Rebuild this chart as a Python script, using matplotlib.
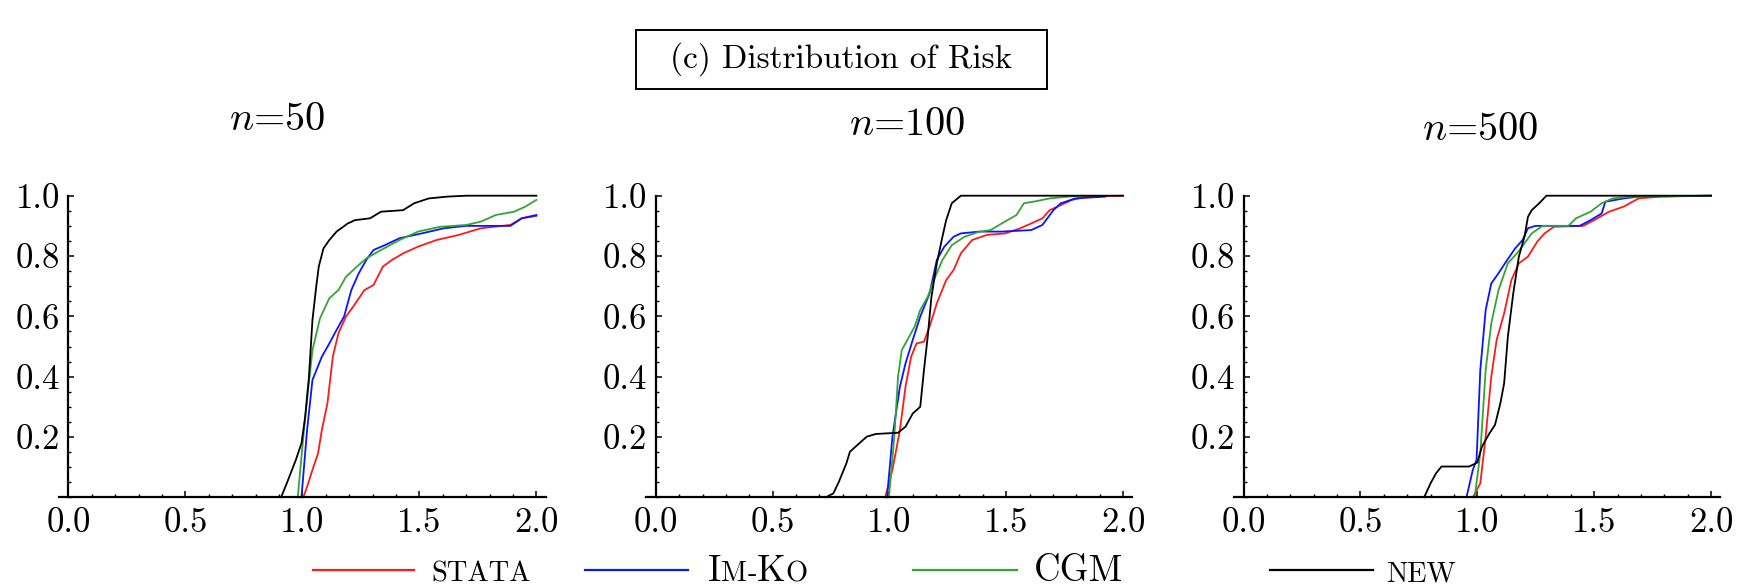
import matplotlib
matplotlib.use('Agg')
import matplotlib.pyplot as plt
from matplotlib.lines import Line2D
from matplotlib.patches import Rectangle
from matplotlib.ticker import MultipleLocator, FormatStrFormatter

plt.rcParams['mathtext.fontset'] = 'cm'
plt.rcParams['font.family'] = 'cmr10'
plt.rcParams['axes.formatter.use_mathtext'] = True

# ---------------- data ----------------
panel_titles = ['50', '100', '500']
series_names = ['STATA', 'IM-KO', 'CGM', 'NEW']
series_colors = ['#ff1a1a', '#0a14ff', '#33a532', '#000000']

# n = 50
stata_50_x = [1.004, 1.02, 1.043, 1.067, 1.083, 1.107, 1.13, 1.154, 1.186, 1.217, 1.265, 1.304, 1.344, 1.383, 1.431, 1.494, 1.573, 1.668, 1.763, 1.889, 1.937, 2.0]
stata_50_y = [0.0, 0.035, 0.091, 0.146, 0.223, 0.312, 0.466, 0.544, 0.599, 0.632, 0.687, 0.704, 0.765, 0.787, 0.809, 0.831, 0.853, 0.87, 0.892, 0.903, 0.925, 0.933]
imko_50_x = [0.996, 1.02, 1.043, 1.083, 1.115, 1.146, 1.178, 1.209, 1.241, 1.273, 1.304, 1.352, 1.415, 1.51, 1.605, 1.70, 1.889, 1.937, 2.0]
imko_50_y = [0.0, 0.223, 0.389, 0.466, 0.51, 0.555, 0.599, 0.687, 0.743, 0.787, 0.82, 0.836, 0.859, 0.875, 0.892, 0.90, 0.90, 0.925, 0.936]
cgm_50_x = [0.98, 1.012, 1.043, 1.075, 1.115, 1.154, 1.186, 1.233, 1.273, 1.336, 1.415, 1.494, 1.589, 1.70, 1.763, 1.826, 1.905, 1.953, 2.0]
cgm_50_y = [0.0, 0.267, 0.488, 0.593, 0.66, 0.687, 0.731, 0.765, 0.792, 0.82, 0.853, 0.881, 0.897, 0.903, 0.914, 0.936, 0.947, 0.964, 0.986]
new_50_x = [0.909, 0.933, 0.972, 0.996, 1.012, 1.028, 1.043, 1.059, 1.07, 1.09, 1.115, 1.146, 1.194, 1.225, 1.289, 1.336, 1.43, 1.478, 1.54, 1.62, 1.70, 2.0]
new_50_y = [0.0, 0.046, 0.124, 0.179, 0.267, 0.40, 0.588, 0.698, 0.765, 0.825, 0.853, 0.881, 0.908, 0.919, 0.925, 0.947, 0.952, 0.975, 0.991, 0.997, 1.0, 1.0]

# n = 100
stata_100_x = [0.982, 1.013, 1.045, 1.069, 1.093, 1.116, 1.148, 1.172, 1.203, 1.243, 1.275, 1.306, 1.354, 1.417, 1.496, 1.56, 1.607, 1.655, 1.686, 1.734, 1.781, 1.845, 2.0]
stata_100_y = [0.0, 0.091, 0.223, 0.367, 0.466, 0.51, 0.516, 0.566, 0.643, 0.72, 0.754, 0.809, 0.853, 0.87, 0.875, 0.892, 0.908, 0.925, 0.952, 0.969, 0.986, 0.997, 1.0]
imko_100_x = [0.99, 1.013, 1.045, 1.069, 1.10, 1.132, 1.172, 1.203, 1.235, 1.275, 1.306, 1.386, 1.481, 1.607, 1.655, 1.702, 1.734, 1.797, 1.924]
imko_100_y = [0.0, 0.201, 0.367, 0.444, 0.522, 0.599, 0.676, 0.787, 0.831, 0.864, 0.875, 0.881, 0.881, 0.886, 0.903, 0.952, 0.975, 0.991, 0.997]
cgm_100_x = [0.998, 1.021, 1.037, 1.053, 1.077, 1.108, 1.132, 1.164, 1.196, 1.227, 1.267, 1.322, 1.386, 1.433, 1.481, 1.544, 1.576, 1.623, 1.686, 1.766, 1.829]
cgm_100_y = [0.0, 0.201, 0.40, 0.488, 0.522, 0.566, 0.621, 0.665, 0.731, 0.787, 0.836, 0.864, 0.881, 0.886, 0.908, 0.936, 0.975, 0.981, 0.991, 0.997, 1.0]
new_100_x = [0.728, 0.76, 0.784, 0.816, 0.831, 0.871, 0.903, 0.942, 1.037, 1.069, 1.10, 1.132, 1.148, 1.164, 1.18, 1.203, 1.227, 1.243, 1.267, 1.306, 2.0]
new_100_y = [0.0, 0.013, 0.052, 0.113, 0.151, 0.179, 0.201, 0.21, 0.214, 0.234, 0.278, 0.30, 0.422, 0.533, 0.665, 0.776, 0.864, 0.919, 0.975, 1.0, 1.0]

# n = 500
stata_500_x = [0.981, 1.013, 1.036, 1.06, 1.083, 1.115, 1.146, 1.178, 1.217, 1.257, 1.288, 1.328, 1.454, 1.50, 1.564, 1.627, 1.69, 1.784, 2.0]
stata_500_y = [0.0, 0.046, 0.201, 0.40, 0.522, 0.61, 0.72, 0.776, 0.798, 0.848, 0.875, 0.897, 0.90, 0.919, 0.947, 0.964, 0.991, 0.997, 1.0]
imko_500_x = [0.954, 0.981, 0.997, 1.013, 1.036, 1.06, 1.091, 1.123, 1.162, 1.194, 1.217, 1.249, 1.438, 1.485, 1.532, 1.548, 1.627, 1.69, 2.0]
imko_500_y = [0.0, 0.091, 0.124, 0.422, 0.621, 0.709, 0.743, 0.781, 0.825, 0.853, 0.892, 0.90, 0.90, 0.919, 0.941, 0.98, 0.991, 0.997, 1.0]
cgm_500_x = [0.989, 1.013, 1.036, 1.06, 1.091, 1.131, 1.17, 1.202, 1.233, 1.28, 1.39, 1.422, 1.485, 1.532, 1.58, 1.658, 2.0]
cgm_500_y = [0.0, 0.146, 0.422, 0.577, 0.687, 0.776, 0.809, 0.842, 0.875, 0.90, 0.90, 0.925, 0.947, 0.975, 0.991, 0.997, 1.0]
new_500_x = [0.773, 0.80, 0.824, 0.847, 0.965, 1.0, 1.02, 1.052, 1.076, 1.099, 1.115, 1.131, 1.154, 1.178, 1.202, 1.217, 1.233, 1.265, 1.296, 2.0]
new_500_y = [0.0, 0.046, 0.08, 0.102, 0.102, 0.115, 0.168, 0.212, 0.24, 0.312, 0.378, 0.533, 0.676, 0.798, 0.864, 0.93, 0.952, 0.975, 1.0, 1.0]

panels = [
    [(stata_50_x, stata_50_y), (imko_50_x, imko_50_y), (cgm_50_x, cgm_50_y), (new_50_x, new_50_y)],
    [(stata_100_x, stata_100_y), (imko_100_x, imko_100_y), (cgm_100_x, cgm_100_y), (new_100_x, new_100_y)],
    [(stata_500_x, stata_500_y), (imko_500_x, imko_500_y), (cgm_500_x, cgm_500_y), (new_500_x, new_500_y)],
]
x_ticks = [0.0, 0.5, 1.0, 1.5, 2.0]
y_ticks = [0.2, 0.4, 0.6, 0.8, 1.0]

# ---------------- layout ----------------
W, H = 1737, 587
fig = plt.figure(figsize=(W / 100, H / 100), dpi=100)

panel_px = [(68.4, 536.4), (655.8, 1123.0), (1243.5, 1711.0)]
y0_px, y1_px = 497.3, 195.7
xpad = 0.04
title_pos = [(277, 120), (907, 125), (1480, 130)]

for i, (x0, x2) in enumerate(panel_px):
    scale = (x2 - x0) / 2.0
    left = x0 - xpad * scale
    width = (2 + 2 * xpad) * scale
    ax = fig.add_axes([left / W, (H - y0_px) / H, width / W, (y0_px - y1_px) / H])
    ax.set_xlim(-xpad, 2 + xpad)
    ax.set_ylim(0, 1.0)
    for (xs, ys), c in zip(panels[i], series_colors):
        ax.plot(xs, ys, color=c, lw=1.3, clip_on=False)
    for s in ['top', 'right']:
        ax.spines[s].set_visible(False)
    ax.spines['left'].set_position(('data', 0))
    ax.spines['left'].set_bounds(0, 1.0)
    for s in ['left', 'bottom']:
        ax.spines[s].set_linewidth(1.6)
        ax.spines[s].set_zorder(5)
    ax.set_xticks(x_ticks)
    ax.xaxis.set_major_formatter(FormatStrFormatter('%.1f'))
    ax.xaxis.set_minor_locator(MultipleLocator(0.1))
    ax.set_yticks(y_ticks)
    ax.yaxis.set_major_formatter(FormatStrFormatter('%.1f'))
    ax.yaxis.set_minor_locator(MultipleLocator(0.05))
    ax.tick_params(which='major', direction='in', length=4.0, width=1.1, labelsize=25)
    ax.tick_params(which='minor', direction='in', length=2.4, width=1.0)
    ax.tick_params(axis='x', which='major', pad=7)
    ax.tick_params(axis='y', which='major', pad=6)
    ax.patch.set_visible(False)
    tx, ty = title_pos[i]
    fig.text(tx / W, (H - ty) / H, r'$n$=' + panel_titles[i], fontsize=29,
             ha='center', va='center')

# title box
bx0, bx1, by0, by1 = 636, 1047, 30, 89
fig.patches.append(Rectangle((bx0 / W, (H - by1) / H), (bx1 - bx0) / W, (by1 - by0) / H,
                             transform=fig.transFigure, fill=False, lw=1.4, ec='black'))
fig.text((bx0 + bx1) / 2 / W, (H - (by0 + by1) / 2) / H, '(c) Distribution of Risk',
         fontsize=24, ha='center', va='center')

# legend (drawn manually to imitate small caps)
renderer = fig.canvas.get_renderer()
leg_y = 569.5
leg_base = 581.0
big, small = 26.5, 20.5
legend_lines = [(313, 414), (585, 688), (913, 1017), (1270, 1373)]
legend_text_x = [431.7, 708.0, 1034.0, 1386.0]
legend_parts = [
    [('STATA', small)],
    [('I', big), ('M', small), ('-', small), ('K', big), ('O', small)],
    [('CGM', big)],
    [('NEW', small)],
]
for (lx0, lx1), c, tx, parts in zip(legend_lines, series_colors, legend_text_x, legend_parts):
    fig.add_artist(Line2D([lx0 / W, lx1 / W], [(H - leg_y) / H] * 2, transform=fig.transFigure,
                          color=c, lw=1.6))
    x = tx
    for s, size in parts:
        t = fig.text(x / W, (H - leg_base) / H, s, fontsize=size, ha='left', va='baseline')
        bb = t.get_window_extent(renderer)
        x += bb.width

fig.savefig('out.png', dpi=100)
